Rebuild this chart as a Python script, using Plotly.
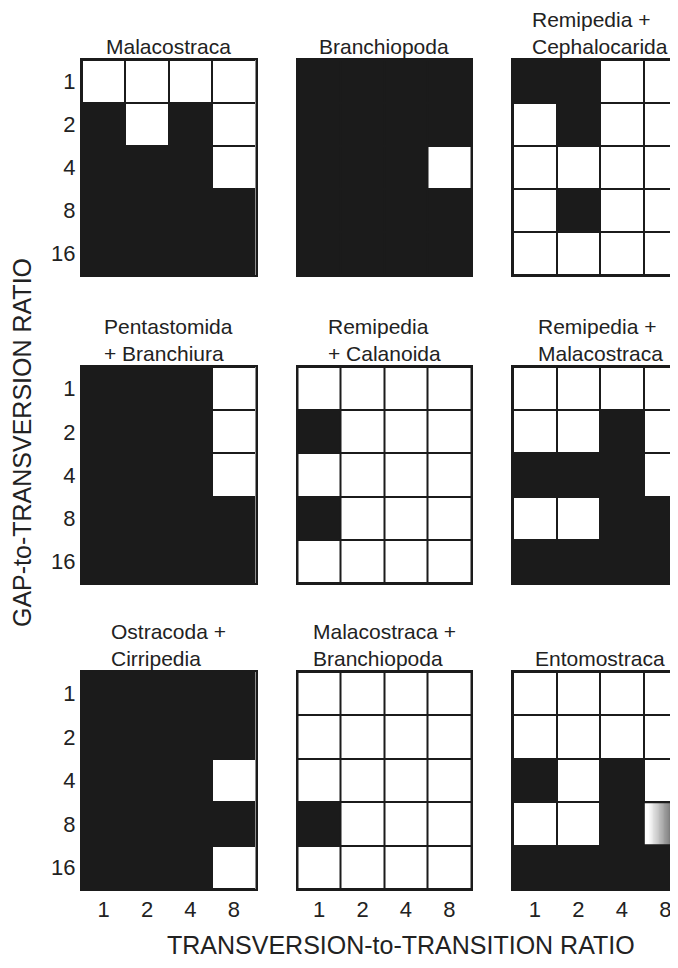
import plotly.graph_objects as go
import numpy as np

# ---------------- data ----------------
gap_ratio = ["1", "2", "4", "8", "16"]      # rows (GAP-to-TRANSVERSION ratio)
tt_ratio = ["1", "2", "4", "8"]             # columns (TRANSVERSION-to-TRANSITION ratio)

panel_titles = [
    "Malacostraca", "Branchiopoda", "Remipedia +<br>Cephalocarida",
    "Pentastomida<br>+ Branchiura", "Remipedia<br>+ Calanoida", "Remipedia +<br>Malacostraca",
    "Ostracoda +<br>Cirripedia", "Malacostraca +<br>Branchiopoda", "Entomostraca",
]

# 1 = black (group recovered), 0 = white, 0.5 = partial (shaded)
malacostraca = [[0, 0, 0, 0], [1, 0, 1, 0], [1, 1, 1, 0], [1, 1, 1, 1], [1, 1, 1, 1]]
branchiopoda = [[1, 1, 1, 1], [1, 1, 1, 1], [1, 1, 1, 0], [1, 1, 1, 1], [1, 1, 1, 1]]
remipedia_cephalocarida = [[1, 1, 0, 0], [0, 1, 0, 0], [0, 0, 0, 0], [0, 1, 0, 0], [0, 0, 0, 0]]
pentastomida_branchiura = [[1, 1, 1, 0], [1, 1, 1, 0], [1, 1, 1, 0], [1, 1, 1, 1], [1, 1, 1, 1]]
remipedia_calanoida = [[0, 0, 0, 0], [1, 0, 0, 0], [0, 0, 0, 0], [1, 0, 0, 0], [0, 0, 0, 0]]
remipedia_malacostraca = [[0, 0, 0, 0], [0, 0, 1, 0], [1, 1, 1, 0], [0, 0, 1, 1], [1, 1, 1, 1]]
ostracoda_cirripedia = [[1, 1, 1, 1], [1, 1, 1, 1], [1, 1, 1, 0], [1, 1, 1, 1], [1, 1, 1, 0]]
malacostraca_branchiopoda = [[0, 0, 0, 0], [0, 0, 0, 0], [0, 0, 0, 0], [1, 0, 0, 0], [0, 0, 0, 0]]
entomostraca = [[0, 0, 0, 0], [0, 0, 0, 0], [1, 0, 1, 0], [0, 0, 1, 0.5], [1, 1, 1, 1]]

panels = [malacostraca, branchiopoda, remipedia_cephalocarida,
          pentastomida_branchiura, remipedia_calanoida, remipedia_malacostraca,
          ostracoda_cirripedia, malacostraca_branchiopoda, entomostraca]

# ---------------- layout geometry ----------------
OFF = 8                         # page body margin around the figure
W, H = 678 - OFF, 968 - 2 * OFF  # figure fills the window without overflow
BLACK = "#1b1b1b"
TXT = "#222222"
FONT = "Arial, Liberation Sans, sans-serif"
# panel extents in window pixels (3rd column is cut by the window edge)
col_px = [(82, 255.5), (297.5, 471), (513, 687)]
row_px = [(60, 275), (367, 583), (672, 889)]

fig = go.Figure()
layout = dict(
    width=W, height=H, margin=dict(l=0, r=0, t=0, b=0),
    paper_bgcolor="white", plot_bgcolor=BLACK, showlegend=False,
    font=dict(family=FONT, color=TXT, size=22),
)
annotations = []

for i, z in enumerate(panels):
    r, c = divmod(i, 3)
    n = i + 1
    xa = "x" if n == 1 else f"x{n}"
    ya = "y" if n == 1 else f"y{n}"
    xkey = "xaxis" if n == 1 else f"xaxis{n}"
    ykey = "yaxis" if n == 1 else f"yaxis{n}"

    zarr = np.array(z, dtype=float)
    partial = (zarr > 0) & (zarr < 1)
    zmain = np.where(partial, np.nan, zarr)
    ncol = len(tt_ratio)
    nrow = len(gap_ratio)
    fig.add_trace(go.Heatmap(
        z=zmain, x=list(range(ncol)), y=list(range(nrow)),
        colorscale=[[0, "white"], [1, BLACK]], zmin=0, zmax=1,
        xgap=2, ygap=2, showscale=False, hoverinfo="skip",
        xaxis=xa, yaxis=ya,
    ))
    # partial cells drawn as a left-to-right white-to-black shading
    for (ri, ci) in zip(*np.where(partial)):
        nsub = 50
        dx = 0.97 / nsub
        shade = np.clip((np.linspace(0, 1, nsub) - 0.08) / 0.92, 0, 1)
        fig.add_trace(go.Heatmap(
            z=[shade],
            x0=ci - 0.5 + 0.03 + dx / 2, dx=dx, y=[ri],
            colorscale=[[0, "white"], [1, BLACK]], zmin=0, zmax=1,
            xgap=0, ygap=2, showscale=False, hoverinfo="skip",
            xaxis=xa, yaxis=ya,
        ))

    x0p, x1p = col_px[c]
    cell_w = (x1p - x0p) / ncol
    fx0 = x0p - OFF
    fx1 = min(x1p - OFF, W)
    xmax = -0.5 + (fx1 - fx0) / cell_w
    fy0, fy1 = row_px[r][0] - OFF, row_px[r][1] - OFF

    layout[xkey] = dict(
        domain=[fx0 / W, fx1 / W], range=[-0.5, xmax], anchor=ya,
        showgrid=False, zeroline=False, showline=True, linecolor=BLACK, linewidth=2,
        mirror=True, ticks="", tickvals=list(range(ncol)), ticktext=tt_ratio,
        showticklabels=(r == 2), tickfont=dict(size=22, color=TXT, family=FONT),
        fixedrange=True,
    )
    layout[ykey] = dict(
        domain=[1 - fy1 / H, 1 - fy0 / H], range=[nrow - 0.5, -0.5], anchor=xa,
        showgrid=False, zeroline=False, showline=True, linecolor=BLACK, linewidth=2,
        mirror=(c != 2), ticks="", tickvals=list(range(nrow)), ticktext=gap_ratio,
        showticklabels=(c == 0), tickfont=dict(size=22, color=TXT, family=FONT),
        fixedrange=True,
    )
    annotations.append(dict(
        text=panel_titles[i], xref=xa, yref=f"{ya} domain",
        x=(ncol - 1) / 2, y=1, xanchor="center", yanchor="bottom", yshift=0,
        align="left", showarrow=False, font=dict(size=21, color=TXT, family=FONT),
    ))

annotations.append(dict(
    text="TRANSVERSION-to-TRANSITION RATIO", xref="paper", yref="paper",
    x=(401 - OFF) / W, y=0, xanchor="center", yanchor="bottom", yshift=-1,
    showarrow=False, font=dict(size=25, color=TXT, family=FONT),
))
annotations.append(dict(
    text="GAP-to-TRANSVERSION RATIO", xref="paper", yref="paper",
    x=(22 - OFF) / W, y=1 - (443 - OFF) / H, xanchor="center", yanchor="middle",
    textangle=-90, showarrow=False, font=dict(size=25, color=TXT, family=FONT),
))
layout["annotations"] = annotations
fig.update_layout(**layout)

fig.write_html("out.html")
